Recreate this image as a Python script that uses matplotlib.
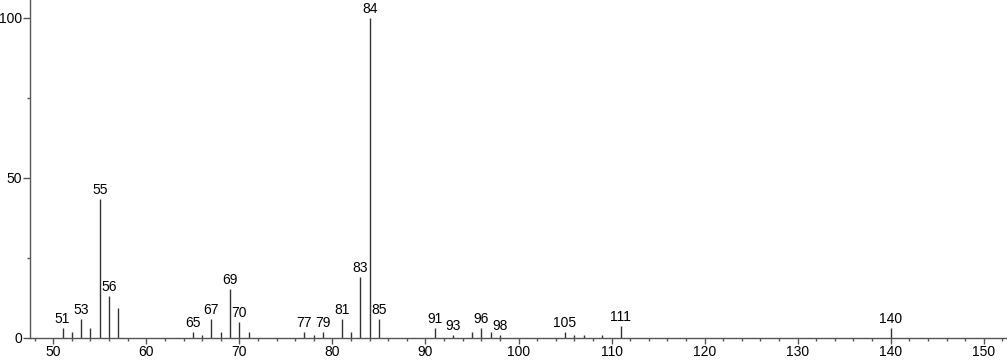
import matplotlib.pyplot as plt
from matplotlib.ticker import MultipleLocator

plt.rcParams['font.family'] = ['Liberation Sans', 'DejaVu Sans']

# m/z values and relative intensities
mz = [51, 52, 53, 54, 55, 56, 57, 65, 66, 67, 68, 69, 70, 71,
      77, 78, 79, 81, 82, 83, 84, 85, 91, 93, 95, 96, 97, 98,
      105, 106, 107, 109, 111, 140]
intensity = [3, 2, 6, 3.2, 43.3, 13.1, 9.5, 2, 1, 6, 2, 15.3, 5, 2,
             2, 1, 2, 6, 2, 19, 100, 6, 3, 1, 2, 3, 2, 1,
             2, 1, 1, 1, 3.8, 3]
labelled = [51, 53, 55, 56, 65, 67, 69, 70, 77, 79, 81, 83, 84, 85,
            91, 93, 96, 98, 105, 111, 140]

fig = plt.figure(figsize=(10.07, 3.62), dpi=100)
ax = fig.add_axes([0.0298, 0.0663, 0.9702, 0.9337])

ax.vlines(mz, 0, intensity, color='#333333', linewidth=1)

for m, h in zip(mz, intensity):
    if m in labelled:
        ax.annotate(str(m), (m, h), xytext=(0, 1.5), textcoords='offset points',
                    ha='center', va='bottom', fontsize=10, color='black')

ax.set_xlim(47.5, 152.5)
ax.set_ylim(0, 105.6)
ax.xaxis.set_major_locator(MultipleLocator(10))
ax.xaxis.set_minor_locator(MultipleLocator(2))
ax.yaxis.set_major_locator(MultipleLocator(50))
ax.yaxis.set_minor_locator(MultipleLocator(25))
ax.tick_params(axis='x', which='major', length=4.3, width=1, color='#555555',
               labelsize=10, pad=1)
ax.tick_params(axis='x', which='minor', length=2.5, width=1, color='#555555')
ax.tick_params(axis='y', which='major', length=5, width=1, color='#555555',
               labelsize=10, pad=0.5)
ax.tick_params(axis='y', which='minor', length=2.5, width=1, color='#555555')

for side in ['top', 'right']:
    ax.spines[side].set_visible(False)
for side in ['left', 'bottom']:
    ax.spines[side].set_color('#555555')
    ax.spines[side].set_linewidth(1)

fig.savefig('out.png', dpi=100)
